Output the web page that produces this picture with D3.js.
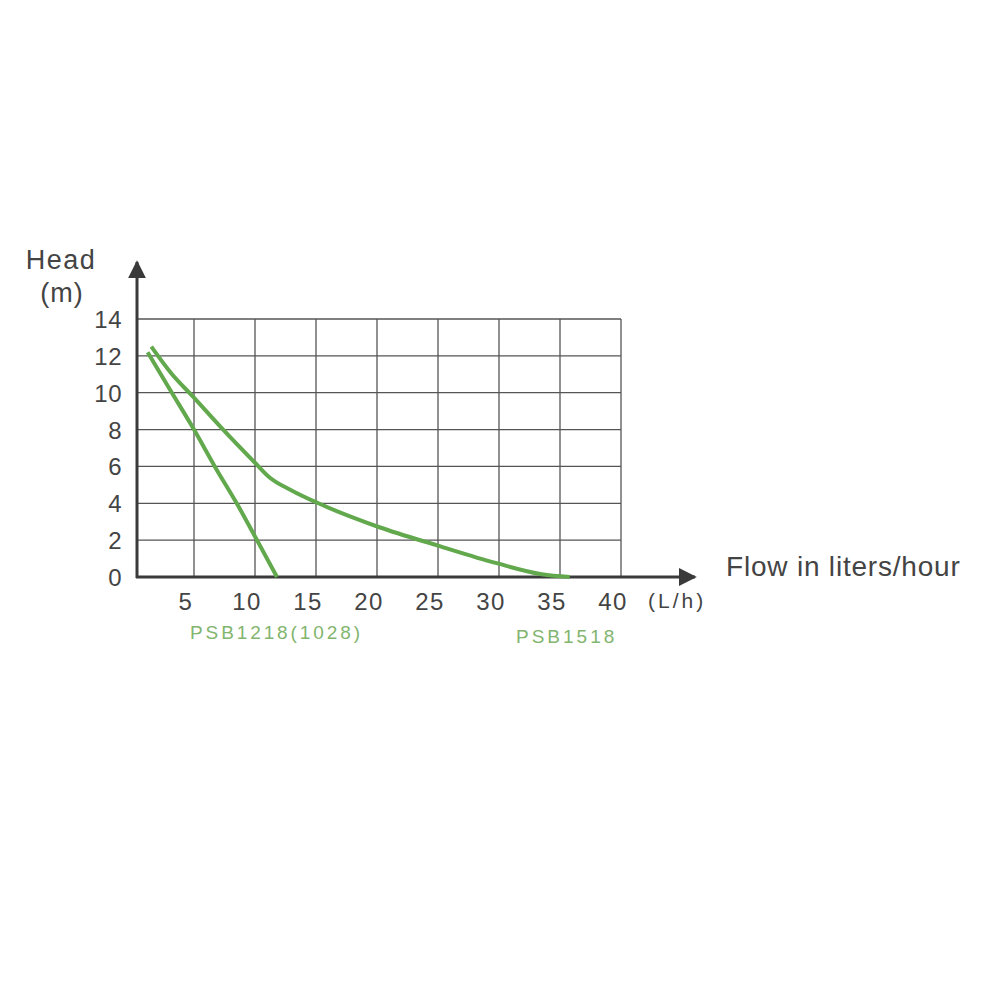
<!DOCTYPE html>
<html>
<head>
<meta charset="utf-8">
<script src="https://d3js.org/d3.v7.min.js"></script>
<style>
    body { margin: 0; background: #fff; }
    text { font-family: "Liberation Sans", Arial, sans-serif; }
</style>
</head>
<body>
<svg class="chart" width="1000" height="1000"></svg>
<script>
// data
var xTicks = [5, 10, 15, 20, 25, 30, 35, 40];
var yTicks = [0, 2, 4, 6, 8, 10, 12, 14];

var psb1218Flow = [1.2, 3.0, 5.0, 6.7, 8.5, 10.0, 11.8];
var psb1218Head = [12.2, 10.2, 8.0, 6.0, 4.0, 2.2, 0];

var psb1518Flow = [1.5, 3.2, 4.9, 7.1, 10.0, 11.2, 13.0, 15.2, 20.2, 25.0, 29.8, 33.5, 35.8];
var psb1518Head = [12.5, 11.0, 9.8, 8.2, 6.2, 5.4, 4.7, 4.0, 2.7, 1.7, 0.75, 0.15, 0];

var seriesNames = ["PSB1218(1028)", "PSB1518"];

var svg = d3.select(".chart");

// scales
var x = d3.scaleLinear().domain([0, 40]).range([133, 621]);
var y = d3.scaleLinear().domain([0, 14]).range([577, 319]);

var gridColor = "#555";
var axisColor = "#3a3a3a";
var textColor = "#444";
var lineGreen = "#62a84c";
var labelGreen = "#82b56e";

// grid
svg.append("g").selectAll("line.h")
    .data(yTicks.filter(function(d) { return d > 0; }))
    .enter().append("line")
    .attr("x1", x(0) + 4).attr("x2", x(40))
    .attr("y1", function(d) { return y(d); })
    .attr("y2", function(d) { return y(d); })
    .attr("stroke", gridColor).attr("stroke-width", 1.3);

svg.append("g").selectAll("line.v")
    .data(xTicks)
    .enter().append("line")
    .attr("x1", function(d) { return x(d); })
    .attr("x2", function(d) { return x(d); })
    .attr("y1", y(14)).attr("y2", y(0))
    .attr("stroke", gridColor).attr("stroke-width", 1.3);

// axes with arrows
svg.append("defs").append("marker")
    .attr("id", "arrow")
    .attr("viewBox", "0 0 10 10")
    .attr("refX", 9).attr("refY", 5)
    .attr("markerWidth", 6).attr("markerHeight", 6)
    .attr("orient", "auto")
    .append("path")
    .attr("d", "M0,0 L10,5 L0,10 Z")
    .attr("fill", axisColor);

svg.append("line")
    .attr("x1", x(0) + 4).attr("x2", x(0) + 4)
    .attr("y1", y(0) + 1).attr("y2", 262)
    .attr("stroke", axisColor).attr("stroke-width", 3)
    .attr("marker-end", "url(#arrow)");

svg.append("line")
    .attr("x1", x(0) + 3).attr("x2", 695)
    .attr("y1", y(0)).attr("y2", y(0))
    .attr("stroke", axisColor).attr("stroke-width", 3)
    .attr("marker-end", "url(#arrow)");

// tick labels
svg.append("g").selectAll("text")
    .data(yTicks)
    .enter().append("text")
    .attr("x", 122)
    .attr("y", function(d) { return y(d) + 9; })
    .attr("text-anchor", "end")
    .attr("font-size", 24)
    .attr("letter-spacing", 0.5)
    .attr("fill", textColor)
    .text(function(d) { return d; });

svg.append("g").selectAll("text")
    .data(xTicks)
    .enter().append("text")
    .attr("x", function(d) { return x(d) - 8; })
    .attr("y", 610)
    .attr("text-anchor", "middle")
    .attr("font-size", 24)
    .attr("letter-spacing", 1.5)
    .attr("fill", textColor)
    .text(function(d) { return d; });

svg.append("text")
    .attr("x", 648).attr("y", 608)
    .attr("font-size", 21)
    .attr("letter-spacing", 3)
    .attr("fill", textColor)
    .text("(L/h)");

svg.append("text")
    .attr("x", 61).attr("y", 269)
    .attr("text-anchor", "middle")
    .attr("font-size", 27)
    .attr("letter-spacing", 1.5)
    .attr("fill", textColor)
    .text("Head");

svg.append("text")
    .attr("x", 62).attr("y", 302)
    .attr("text-anchor", "middle")
    .attr("font-size", 27)
    .attr("letter-spacing", 1)
    .attr("fill", textColor)
    .text("(m)");

svg.append("text")
    .attr("x", 726).attr("y", 576)
    .attr("font-size", 28)
    .attr("letter-spacing", 0.8)
    .attr("fill", textColor)
    .text("Flow in liters/hour");

// curves
var line = d3.line()
    .x(function(d) { return x(d[0]); })
    .y(function(d) { return y(d[1]); })
    .curve(d3.curveMonotoneX);

svg.append("path")
    .datum(d3.zip(psb1218Flow, psb1218Head))
    .attr("d", line)
    .attr("fill", "none")
    .attr("stroke", lineGreen)
    .attr("stroke-width", 4);

svg.append("path")
    .datum(d3.zip(psb1518Flow, psb1518Head))
    .attr("d", line)
    .attr("fill", "none")
    .attr("stroke", lineGreen)
    .attr("stroke-width", 4);

// series labels
svg.append("text")
    .attr("x", 190).attr("y", 639)
    .attr("font-size", 19)
    .attr("letter-spacing", 2.9)
    .attr("fill", labelGreen)
    .text(seriesNames[0]);

svg.append("text")
    .attr("x", 516).attr("y", 643)
    .attr("font-size", 19)
    .attr("letter-spacing", 3)
    .attr("fill", labelGreen)
    .text(seriesNames[1]);
</script>
</body>
</html>
